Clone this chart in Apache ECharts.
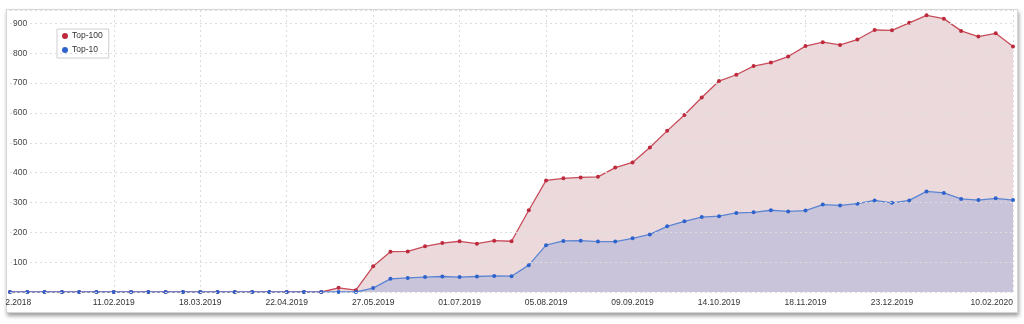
<!DOCTYPE html>
<html>
<head>
<meta charset="utf-8">
<script src="https://cdn.jsdelivr.net/npm/echarts@6/dist/echarts.min.js"></script>
<style>
  html, body { margin: 0; padding: 0; background: #fff; width: 1024px; height: 324px; overflow: hidden; }
  #frame {
    position: absolute; left: 6px; top: 9px; width: 1010px; height: 302px;
    background: #fff; border: 1px solid #d6d6d6;
    box-shadow: 1px 3px 4px rgba(0,0,0,0.38);
  }
  #chart { position: absolute; left: 6px; top: 0; width: 1012px; height: 324px; }
</style>
</head>
<body>
<div id="frame"></div>
<div id="chart"></div>
<script>
// Weekly snapshots (Monday of each week)
const weeks = [
  '31.12.2018','07.01.2019','14.01.2019','21.01.2019','28.01.2019','04.02.2019','11.02.2019',
  '18.02.2019','25.02.2019','04.03.2019','11.03.2019','18.03.2019','25.03.2019','01.04.2019',
  '08.04.2019','15.04.2019','22.04.2019','29.04.2019','06.05.2019','13.05.2019','20.05.2019',
  '27.05.2019','03.06.2019','10.06.2019','17.06.2019','24.06.2019','01.07.2019','08.07.2019',
  '15.07.2019','22.07.2019','29.07.2019','05.08.2019','12.08.2019','19.08.2019','26.08.2019',
  '02.09.2019','09.09.2019','16.09.2019','23.09.2019','30.09.2019','07.10.2019','14.10.2019',
  '21.10.2019','28.10.2019','04.11.2019','11.11.2019','18.11.2019','25.11.2019','02.12.2019',
  '09.12.2019','16.12.2019','23.12.2019','30.12.2019','06.01.2020','13.01.2020','20.01.2020',
  '27.01.2020','03.02.2020','10.02.2020'
];

// Dates that carry an axis label / vertical grid line
const labeledWeeks = [
  '31.12.2018','11.02.2019','18.03.2019','22.04.2019','27.05.2019','01.07.2019',
  '05.08.2019','09.09.2019','14.10.2019','18.11.2019','23.12.2019','10.02.2020'
];

// Number of ranking keywords
const top100 = [
  0,0,0,0,0,0,0,0,0,0,0,0,0,0,0,0,0,0,0,
  14,6,86,135,136,153,164,170,162,172,170,274,374,381,384,386,417,434,484,540,
  593,652,707,728,757,769,789,824,837,828,846,878,877,902,927,916,875,856,867,823
];
const top10 = [
  0,0,0,0,0,0,0,0,0,0,0,0,0,0,0,0,0,0,0,0,0,
  13,44,47,50,52,50,52,54,53,90,157,171,172,169,169,180,193,220,237,251,
  254,265,267,274,270,273,293,290,296,307,299,307,337,332,312,308,314,308
];

const yTicks = { min: 0, max: 945, step: 100 };

const FONT = '"Liberation Sans", Arial, Helvetica, sans-serif';
const isLabeled = (i) => labeledWeeks.indexOf(weeks[i]) !== -1;

const chart = echarts.init(document.getElementById('chart'), null, { renderer: 'canvas' });
chart.setOption({
  animation: false,
  backgroundColor: 'transparent',
  textStyle: { fontFamily: FONT },
  grid: { left: 4, right: 5, top: 10, bottom: 32, containLabel: false, outerBoundsMode: 'none' },
  legend: {
    orient: 'vertical',
    left: 51, top: 29,
    padding: [2, 6, 3, 5],
    itemGap: 4,
    itemWidth: 6, itemHeight: 6,
    icon: 'circle',
    backgroundColor: '#fff',
    borderColor: '#cfcfcf',
    borderWidth: 1,
    textStyle: { fontSize: 8.5, color: '#333', lineHeight: 10, padding: [0, 0, 0, -1] },
    data: ['Top-100', 'Top-10']
  },
  xAxis: {
    type: 'category',
    data: weeks,
    boundaryGap: false,
    axisLine: { show: false },
    axisTick: { show: false },
    axisLabel: {
      interval: (i) => isLabeled(i),
      alignMinLabel: 'center',
      alignMaxLabel: 'right',
      hideOverlap: false,
      fontSize: 8.5,
      color: '#333',
      margin: 6
    },
    splitLine: {
      show: true,
      interval: (i) => i > 0 && isLabeled(i),
      lineStyle: { color: '#dcdcdc', type: [2, 3], width: 1 }
    }
  },
  yAxis: {
    type: 'value',
    min: yTicks.min,
    max: yTicks.max,
    interval: yTicks.step,
    axisLine: { show: false },
    axisTick: { show: false },
    axisLabel: {
      inside: true,
      showMinLabel: false,
      showMaxLabel: false,
      margin: 2,
      fontSize: 8.5,
      color: '#444',
      backgroundColor: '#fff',
      padding: [1, 2, 1, 1]
    },
    splitLine: { lineStyle: { color: '#dcdcdc', type: [2, 3], width: 1 } },
    z: 5
  },
  series: [
    {
      name: 'Top-100',
      type: 'line',
      data: top100,
      symbol: 'circle',
      symbolSize: 4,
      showSymbol: true,
      color: '#bf2f40',
      lineStyle: { color: '#c84c5a', width: 1.3 },
      itemStyle: { color: '#bd2a3c' },
      areaStyle: { color: '#ebd9dc', opacity: 1 },
      z: 2
    },
    {
      name: 'Top-10',
      type: 'line',
      data: top10,
      symbol: 'circle',
      symbolSize: 4,
      showSymbol: true,
      color: '#2f66cc',
      lineStyle: { color: '#5b85d3', width: 1.3 },
      itemStyle: { color: '#2f63cc' },
      areaStyle: { color: '#cac4da', opacity: 1 },
      z: 3
    }
  ]
});
</script>
</body>
</html>
